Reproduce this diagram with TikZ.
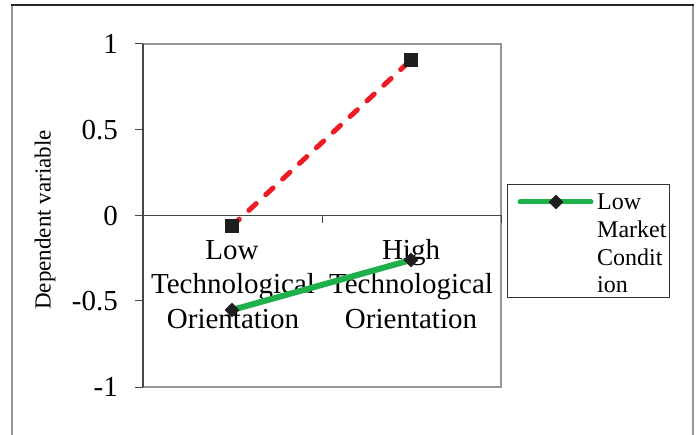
\documentclass[tikz,border=0pt]{standalone}
\usepackage{fontspec}
\setmainfont{Liberation Serif}
\usetikzlibrary{shapes.geometric}
\definecolor{frameGray}{RGB}{150,150,150}
\definecolor{axisDark}{RGB}{70,70,70}
\definecolor{serRed}{RGB}{237,28,36}
\definecolor{serGreen}{RGB}{30,176,75}
\definecolor{markBlack}{RGB}{30,30,30}
\tikzset{
  ticklbl/.style={anchor=east,inner sep=0pt,font=\fontsize{29}{34}\selectfont},
  catlbl/.style={anchor=base,inner sep=0pt,font=\fontsize{29}{34}\selectfont},
  leglbl/.style={anchor=base west,inner sep=0pt,font=\fontsize{24}{28}\selectfont},
  sqmark/.style={rectangle,fill=markBlack,minimum size=14pt,inner sep=0pt},
  dmmark/.style={diamond,fill=markBlack,minimum size=15pt,inner sep=0pt},
  redser/.style={serRed,line width=5pt,dash pattern=on 10pt off 13pt,line cap=round},
  greenser/.style={serGreen,line width=6pt},
}
\begin{document}
\begin{tikzpicture}[x=1pt,y=-1pt]
\useasboundingbox (0,0) rectangle (698,435);
% outer frame (open at the bottom)
\draw[frameGray,line width=2pt] (12,440) -- (12,5);
\draw[frameGray,line width=2pt] (693,5) -- (693,440);
\draw[black!85,line width=1.5pt] (11,5) -- (694,5);
% plot area
\draw[frameGray,line width=2.5pt] (143,44) -- (501,44) -- (501,387) -- (143,387);
\draw[axisDark,line width=1.5pt] (143,44) -- (143,387);
% y ticks and labels
\foreach \yy/\lab in {44/1,130/0.5,215.5/0,301/-0.5,387/-1}{
  \draw[axisDark,line width=1pt] (135,\yy) -- (143,\yy);
  \node[ticklbl] at (118,\yy) {\lab};
}
% zero line with category ticks
\draw[axisDark,line width=1pt] (143,215.5) -- (501,215.5);
\foreach \xx in {143,322,501}{
  \draw[axisDark,line width=1pt] (\xx,215.5) -- (\xx,223);
}
% axis title
\node[rotate=90,inner sep=0pt,font=\fontsize{23}{27}\selectfont] (ytitle) at (45,220) {Dependent variable};
% category labels
\node[catlbl] (lowA) at (232,260) {Low};
\node[catlbl] (lowB) at (233,294) {Technological};
\node[catlbl] (lowC) at (233,328) {Orientation};
\node[catlbl] (highA) at (411,260) {High};
\node[catlbl] (highB) at (411,294) {Technological};
\node[catlbl] (highC) at (411,328) {Orientation};
% data points
\coordinate (rLow) at (232,226);
\coordinate (rHigh) at (411,60);
\coordinate (gLow) at (232,310);
\coordinate (gHigh) at (411,260);
\draw[redser] (rLow) -- (rHigh);
\draw[greenser] (gLow) -- (gHigh);
\node[sqmark] (rLowM) at (rLow) {};
\node[sqmark] (rHighM) at (rHigh) {};
\node[dmmark] (gLowM) at (gLow) {};
\node[dmmark] (gHighM) at (gHigh) {};
% legend
\node[draw=black!80,line width=1pt,rectangle,minimum width=162pt,minimum height=113pt,inner sep=0pt] (legbox) at (588,241.5) {};
\coordinate (legL) at (520,202);
\coordinate (legR) at (591,202);
\draw[greenser,line width=5pt,line cap=round] (legL) -- (legR);
\node[dmmark] (legM) at (556,202) {};
\node[leglbl] (leg1) at (597,210) {Low};
\node[leglbl] (leg2) at (597,238) {Market};
\node[leglbl] (leg3) at (597,266) {Condit};
\node[leglbl] (leg4) at (597,293) {ion};
\end{tikzpicture}
\end{document}
